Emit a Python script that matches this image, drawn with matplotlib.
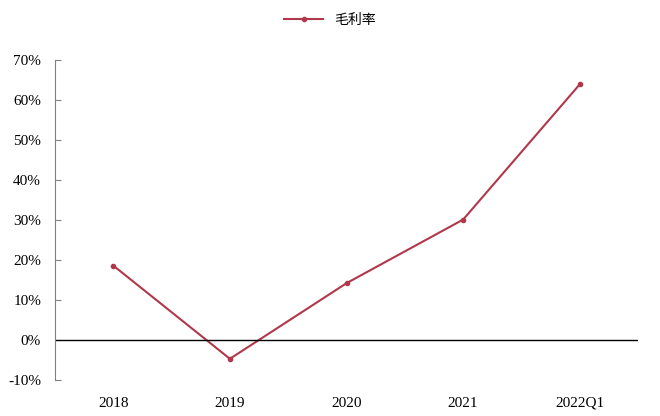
import matplotlib.pyplot as plt
from matplotlib.ticker import FuncFormatter

categories = ["2018", "2019", "2020", "2021", "2022Q1"]
gross_margin = [18.6, -4.7, 14.2, 30.1, 63.9]  # percent
yticks = [-10, 0, 10, 20, 30, 40, 50, 60, 70]

plt.rcParams['font.family'] = ['Liberation Serif', 'Noto Sans CJK SC']

fig = plt.figure(figsize=(6.6, 4.16), dpi=100)
ax = fig.add_axes([55 / 660, 36 / 416, 583 / 660, 320 / 416])

x = range(len(categories))
line, = ax.plot(x, gross_margin, color='#B0384A', lw=1.5,
                marker='o', markersize=3, label='毛利率')

ax.axhline(0, color='black', lw=1)

ax.set_xlim(-0.5, len(categories) - 0.5)
ax.set_ylim(-10, 70)
ax.set_yticks(yticks)
ax.yaxis.set_major_formatter(FuncFormatter(lambda v, p: f"{v:.0f}%"))
ax.set_xticks(list(x))
ax.set_xticklabels(categories)

for s in ['top', 'right', 'bottom']:
    ax.spines[s].set_visible(False)
ax.spines['left'].set_color('#808080')
ax.tick_params(axis='y', direction='in', length=4, color='#808080',
               labelsize=11, pad=10)
ax.tick_params(axis='x', length=0, labelsize=11, pad=12)

leg = fig.legend(handles=[line], loc='upper center', bbox_to_anchor=(0.5, 1.0),
                 frameon=False, prop={'family': 'Noto Sans CJK SC', 'size': 10},
                 handlelength=2.8)

fig.savefig('out.png', dpi=100)
